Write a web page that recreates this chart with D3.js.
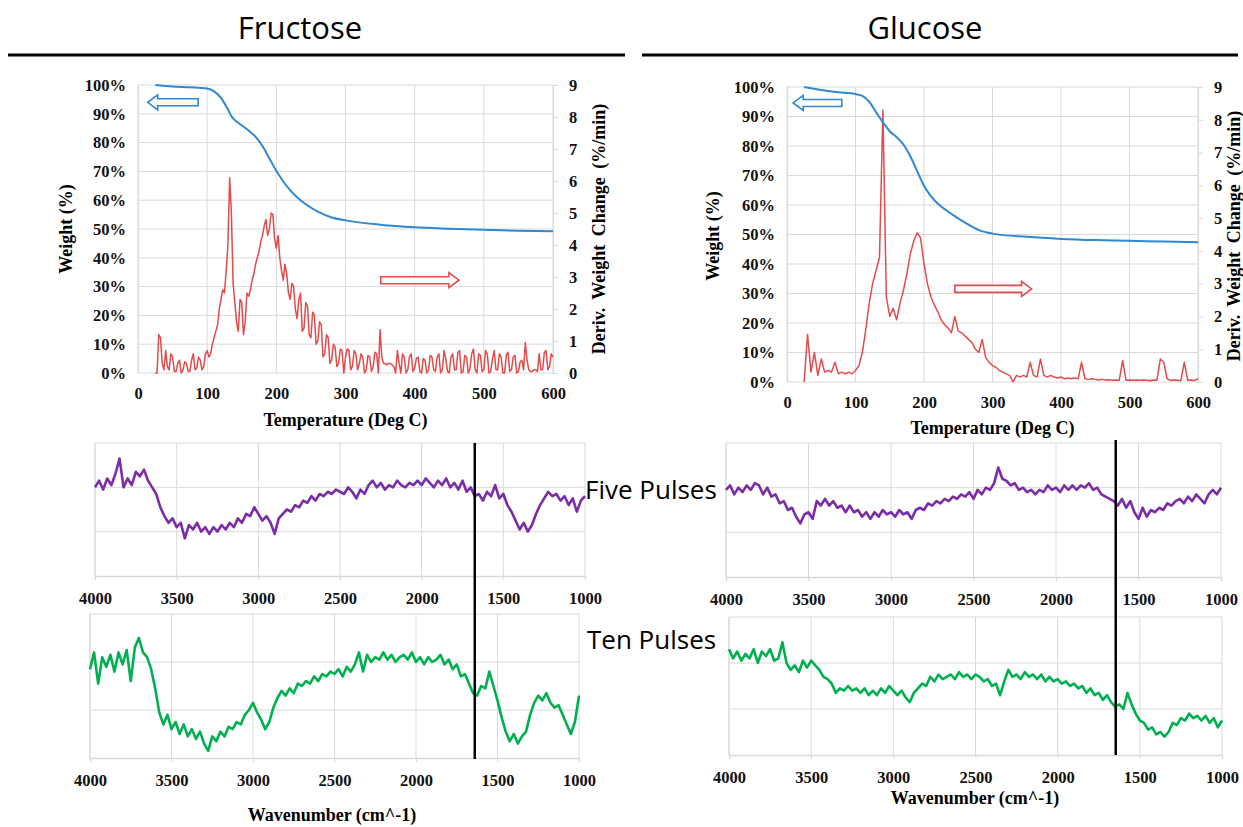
<!DOCTYPE html>
<html>
<head>
<meta charset="utf-8">
<script src="https://cdn.jsdelivr.net/npm/d3@7"></script>
<style>
  body { margin: 0; background: #fff; }
  svg { display: block; }
</style>
</head>
<body>
<svg id="fig" width="1243" height="827"></svg>
<script>
// ---- TGA data (temperature in deg C) ----
const tempTicks = [0, 100, 200, 300, 400, 500, 600];
const weightTicks = [0, 10, 20, 30, 40, 50, 60, 70, 80, 90, 100];
const derivTicks = [0, 1, 2, 3, 4, 5, 6, 7, 8, 9];

// weight curves (smooth)
const fruWeightT = [25, 50, 75, 100, 110, 120, 130, 135, 140, 150, 160, 170, 180, 190, 200, 210, 220, 230, 240, 260, 280, 300, 350, 400, 450, 500, 550, 600];
const fruWeight  = [100, 99.5, 99.2, 98.8, 97.8, 95.5, 91.5, 89.2, 87.8, 86, 84.2, 82, 78.8, 74.5, 70.2, 66.5, 63.5, 61, 59, 56, 54, 53, 51.5, 50.6, 50.1, 49.7, 49.4, 49.2];
const gluWeightT = [25, 50, 75, 100, 110, 120, 130, 140, 145, 150, 160, 170, 180, 190, 200, 210, 220, 240, 260, 280, 300, 350, 400, 450, 500, 550, 600];
const gluWeight  = [100, 99, 98.2, 97.6, 97, 95, 91.5, 88, 86.5, 85, 83, 80.5, 76.5, 71.5, 66.5, 63, 60.5, 57, 54, 51.5, 50.3, 49.2, 48.5, 48.1, 47.9, 47.6, 47.4];

// derivative curves
const fruDerivT = d3.range(25, 600.1, 2.5);   // every 2.5 deg C
const fruDeriv = [0.0, 0.0, 1.2, 1.1, 0.3, 0.1, 0.7, 0.2, 0.1, 0.6, 0.5, 0.05, 0.05, 0.3, 0.4, 0.0, 0.1, 0.35, 0.3, 0.05,
  0.05, 0.4, 0.6, 0.1, 0.15, 0.5, 0.4, 0.1, 0.2, 0.6, 0.7, 0.5, 0.6, 0.9, 1.1, 1.3, 1.5, 2.0, 2.3, 2.6,
  2.5, 3.2, 4.0, 6.1, 5.0, 2.8, 2.2, 1.6, 1.3, 2.3, 2.2, 1.2, 1.6, 2.5, 2.4, 2.6, 2.9, 3.1, 3.4, 3.6,
  3.8, 4.1, 4.3, 4.6, 4.8, 4.3, 4.5, 5.0, 4.95, 4.2, 3.9, 4.3, 3.6, 3.2, 2.9, 3.4, 3.1, 2.5, 2.3, 2.8,
  2.7, 2.0, 1.7, 2.3, 2.5, 1.3, 1.4, 2.2, 2.1, 1.2, 1.1, 1.9, 1.8, 0.9, 1.0, 1.6, 1.5, 0.5, 0.6, 1.2,
  1.1, 0.3, 0.4, 0.9, 0.8, 0.2, 0.3, 0.75, 0.7, 0.0, 0.5, 0.75, 0.7, 0.1, 0.2, 0.7, 0.6, 0.1, 0.3, 0.6,
  0.5, 0.0, 0.1, 0.55, 0.5, 0.05, 0.2, 0.65, 0.6, 0.0, 1.35, 0.5, 0.3, 0.3, 0.25, 0.3, 0.3, 0.25, 0.2, 0.0,
  0.7, 0.3, 0.0, 0.6, 0.5, 0.0, 0.1, 0.5, 0.6, 0.05, 0.15, 0.45, 0.5, 0.05, 0.0, 0.45, 0.4, 0.0, 0.1, 0.55,
  0.5, 0.1, 0.05, 0.5, 0.6, 0.0, 0.1, 0.7, 0.45, 0.05, 0.0, 0.5, 0.6, 0.1, 0.1, 0.65, 0.7, 0.0, 0.05, 0.55,
  0.5, 0.0, 0.15, 0.6, 0.75, 0.1, 0.0, 0.6, 0.55, 0.05, 0.1, 0.7, 0.6, 0.0, 0.05, 0.45, 0.7, 0.1, 0.1, 0.6,
  0.5, 0.0, 0.0, 0.55, 0.65, 0.05, 0.1, 0.5, 0.55, 0.0, 0.05, 0.35, 0.4, 0.1, 0.95, 0.4, 0.1, 0.05, 0.05, 0.1,
  0.1, 0.05, 0.6, 0.1, 0.1, 0.65, 0.7, 0.1, 0.2, 0.6, 0.5];
const gluDerivT = d3.range(25, 601, 5);       // every 5 deg C
const gluDeriv = [0.0, 1.45, 0.3, 0.9, 0.2, 0.7, 0.3, 0.35, 0.3, 0.6, 0.25, 0.3, 0.25, 0.3, 0.25,
  0.35, 0.5, 0.9, 1.6, 2.4, 3.0, 3.4, 3.8, 8.3, 2.6, 2.0, 2.25, 1.9, 2.4, 2.8,
  3.3, 3.9, 4.3, 4.55, 4.4, 3.6, 3.0, 2.6, 2.35, 2.15, 1.9, 1.75, 1.65, 1.5, 2.0,
  1.55, 1.5, 1.4, 1.3, 1.2, 1.0, 0.9, 1.3, 0.75, 0.6, 0.5, 0.45, 0.35, 0.3, 0.25,
  0.2, 0.0, 0.2, 0.15, 0.2, 0.15, 0.6, 0.2, 0.15, 0.7, 0.2, 0.15, 0.2, 0.15, 0.12,
  0.15, 0.1, 0.12, 0.1, 0.12, 0.1, 0.6, 0.1, 0.08, 0.1, 0.08, 0.06, 0.08, 0.06, 0.07,
  0.05, 0.06, 0.05, 0.65, 0.05, 0.06, 0.05, 0.06, 0.05, 0.06, 0.05, 0.04, 0.06, 0.05, 0.7,
  0.6, 0.1, 0.05, 0.06, 0.05, 0.04, 0.6, 0.05, 0.06, 0.04, 0.1];

// ---- IR data (wavenumber, arbitrary transmittance units 0..3) ----
const wnTicks = [4000, 3500, 3000, 2500, 2000, 1500, 1000];
const wn = d3.range(4000, 999, -25);
const fruFive = [2.0, 2.15, 1.95, 2.2, 2.05, 2.3, 2.65, 2.0, 2.2, 2.05, 2.35, 2.25, 2.4, 2.15, 2.0, 1.85,
  1.55, 1.35, 1.2, 1.3, 1.1, 1.2, 0.85, 1.15, 1.05, 1.2, 1.0, 1.1, 0.95, 1.1, 1.0, 1.15,
  1.05, 1.2, 1.1, 1.3, 1.2, 1.4, 1.35, 1.55, 1.4, 1.25, 1.35, 1.2, 0.95, 1.3, 1.4, 1.5,
  1.45, 1.6, 1.55, 1.7, 1.65, 1.8, 1.7, 1.85, 1.8, 1.9, 1.85, 1.95, 1.9, 1.85, 2.0, 1.9,
  1.75, 1.95, 1.85, 2.05, 2.15, 2.0, 2.1, 1.95, 2.05, 2.0, 2.15, 2.05, 2.0, 2.1, 2.05, 2.15,
  2.05, 2.2, 2.1, 2.0, 2.15, 2.05, 2.2, 2.0, 2.1, 1.95, 2.15, 1.9, 2.0, 1.8, 1.85, 1.7,
  1.9, 1.8, 2.05, 1.75, 1.85, 1.6, 1.45, 1.25, 1.05, 1.2, 1.0, 1.15, 1.4, 1.6, 1.75, 1.9,
  1.8, 1.85, 1.7, 1.8, 1.6, 1.75, 1.45, 1.7, 1.8];
const fruTen = [1.85, 2.2, 1.55, 2.1, 1.9, 2.15, 1.8, 2.2, 1.95, 2.25, 1.6, 2.3, 2.5, 2.2, 2.1, 1.85,
  1.45, 0.95, 0.7, 0.9, 0.6, 0.75, 0.5, 0.7, 0.45, 0.6, 0.4, 0.55, 0.3, 0.15, 0.45, 0.35,
  0.55, 0.45, 0.65, 0.6, 0.75, 0.7, 0.9, 1.0, 1.15, 0.95, 0.8, 0.6, 0.75, 1.05, 1.25, 1.4,
  1.3, 1.45, 1.35, 1.55, 1.5, 1.6, 1.55, 1.7, 1.6, 1.75, 1.7, 1.8, 1.75, 1.85, 1.7, 1.9,
  1.8, 1.95, 2.2, 1.8, 2.15, 2.0, 2.1, 2.05, 2.2, 2.05, 2.15, 2.0, 2.1, 2.15, 2.05, 2.2,
  2.0, 2.1, 1.95, 2.1, 2.0, 2.05, 2.15, 1.95, 2.05, 1.85, 1.95, 1.7, 1.75, 1.55, 1.35, 1.3,
  1.5, 1.45, 1.8, 1.5, 1.2, 0.85, 0.55, 0.35, 0.5, 0.3, 0.45, 0.55, 0.9, 1.15, 1.3, 1.2,
  1.35, 1.15, 1.05, 1.1, 0.9, 0.7, 0.5, 0.75, 1.3];
const gluFive = [1.95, 2.05, 1.85, 2.0, 1.9, 2.05, 1.95, 2.1, 2.05, 1.85, 2.0, 1.8, 1.85, 1.65, 1.7, 1.5,
  1.55, 1.35, 1.2, 1.4, 1.45, 1.3, 1.7, 1.6, 1.75, 1.6, 1.7, 1.55, 1.6, 1.45, 1.6, 1.45,
  1.5, 1.35, 1.45, 1.3, 1.45, 1.35, 1.5, 1.4, 1.45, 1.35, 1.5, 1.4, 1.45, 1.3, 1.5, 1.55,
  1.5, 1.65, 1.6, 1.7, 1.65, 1.75, 1.7, 1.8, 1.75, 1.85, 1.8, 1.9, 1.75, 1.95, 1.85, 2.0,
  1.95, 2.1, 2.45, 2.2, 2.15, 2.05, 2.1, 1.95, 2.0, 1.9, 1.95, 1.85, 1.95, 1.9, 2.05, 1.95,
  2.0, 1.9, 2.05, 1.95, 2.05, 1.95, 2.05, 2.0, 2.1, 1.95, 2.0, 1.85, 1.8, 1.75, 1.7, 1.6,
  1.75, 1.55, 1.7, 1.45, 1.3, 1.55, 1.35, 1.5, 1.45, 1.55, 1.5, 1.65, 1.6, 1.7, 1.75, 1.65,
  1.8, 1.7, 1.85, 1.75, 1.65, 1.85, 1.95, 1.85, 2.0];
const gluTen = [2.3, 2.1, 2.25, 2.05, 2.2, 2.1, 2.3, 2.0, 2.25, 2.15, 2.3, 2.05, 2.1, 2.45, 2.0, 1.85,
  1.95, 1.8, 2.05, 1.9, 2.05, 1.95, 1.85, 1.7, 1.65, 1.55, 1.35, 1.45, 1.4, 1.5, 1.4, 1.45,
  1.35, 1.45, 1.3, 1.4, 1.3, 1.45, 1.35, 1.5, 1.4, 1.3, 1.4, 1.25, 1.15, 1.35, 1.45, 1.55,
  1.5, 1.7, 1.6, 1.75, 1.65, 1.7, 1.75, 1.65, 1.8, 1.7, 1.75, 1.65, 1.75, 1.7, 1.6, 1.65,
  1.5, 1.55, 1.3, 1.6, 1.85, 1.7, 1.75, 1.65, 1.8, 1.7, 1.75, 1.65, 1.75, 1.6, 1.7, 1.6,
  1.65, 1.55, 1.6, 1.5, 1.55, 1.45, 1.5, 1.35, 1.45, 1.3, 1.35, 1.2, 1.3, 1.15, 1.05, 1.1,
  1.0, 1.35, 1.1, 0.9, 0.75, 0.7, 0.55, 0.6, 0.45, 0.5, 0.4, 0.5, 0.7, 0.65, 0.8, 0.75,
  0.9, 0.8, 0.85, 0.75, 0.85, 0.7, 0.8, 0.6, 0.75];
const fruMarkerWn = 1675; // vertical reference lines
const gluMarkerWn = 1638;

const svg = d3.select("#fig");
const grid = "#d9d9d9";
const serif = "'Liberation Serif', 'Times New Roman', serif";
const sans = "'Open Sans', 'Noto Sans', sans-serif";
const blue = "#2e88d4", red = "#e24b4b", purple = "#7a2da6", green = "#00b050";

// headers with rule lines
function header(label, cx, lx0, lx1) {
  svg.append("text").attr("x", cx).attr("y", 39).attr("text-anchor", "middle")
    .style("font-family", sans).style("font-size", "31px").text(label);
  svg.append("line").attr("x1", lx0).attr("x2", lx1).attr("y1", 55).attr("y2", 55)
    .attr("stroke", "#000").attr("stroke-width", 3);
}
header("Fructose", 300, 8, 625);
header("Glucose", 925, 642, 1238);

// hollow block arrow between two x positions at height y
function blockArrow(g, xa, xb, y, color) {
  const dir = xb > xa ? 1 : -1;
  const head = 10;
  const sx = xb - dir * head;
  const p = [[xa, y - 3.5], [sx, y - 3.5], [sx, y - 7.5], [xb, y], [sx, y + 7.5], [sx, y + 3.5], [xa, y + 3.5]];
  g.append("path").attr("d", "M" + p.join("L") + "Z")
    .attr("fill", "#fff").attr("stroke", color).attr("stroke-width", 1.6);
}

function boldSerif(sel, size) {
  return sel.style("font-family", serif).style("font-size", size + "px").style("font-weight", "bold");
}

function tgaPanel(o) {
  const g = svg.append("g");
  const x = d3.scaleLinear().domain([0, 600]).range([o.x0, o.x1]);
  const yW = d3.scaleLinear().domain([0, 100]).range([o.y1, o.y0]);
  const yD = d3.scaleLinear().domain([0, 9]).range([o.y1, o.y0]);

  // gridlines
  g.selectAll(".vg").data(tempTicks).enter().append("line")
    .attr("x1", d => x(d)).attr("x2", d => x(d)).attr("y1", o.y0).attr("y2", o.y1)
    .attr("stroke", grid).attr("stroke-width", 1);
  g.selectAll(".hg").data(weightTicks).enter().append("line")
    .attr("x1", o.x0).attr("x2", o.x1).attr("y1", d => yW(d)).attr("y2", d => yW(d))
    .attr("stroke", grid).attr("stroke-width", 1);

  const xa = g.append("g").attr("transform", "translate(0," + o.y1 + ")")
    .call(d3.axisBottom(x).tickValues(tempTicks).tickSize(0).tickPadding(14));
  const ya = g.append("g").attr("transform", "translate(" + o.x0 + ",0)")
    .call(d3.axisLeft(yW).tickValues(weightTicks).tickFormat(d => d + "%").tickSize(0).tickPadding(12));
  const yr = g.append("g").attr("transform", "translate(" + o.x1 + ",0)")
    .call(d3.axisRight(yD).tickValues(derivTicks).tickSize(5).tickPadding(11));
  [xa, ya, yr].forEach(a => {
    a.select(".domain").attr("stroke", grid);
    a.selectAll(".tick line").attr("stroke", grid);
    boldSerif(a.selectAll("text"), 16.5).attr("fill", "#111");
  });
  xa.select(".domain").remove();

  // titles
  boldSerif(g.append("text").attr("x", (o.x0 + o.x1) / 2).attr("y", o.xtY).attr("text-anchor", "middle"), 18)
    .text("Temperature  (Deg C)");
  boldSerif(g.append("text").attr("transform", "translate(" + o.ylX + "," + o.ytY + ") rotate(-90)")
    .attr("text-anchor", "middle").attr("dy", "0.35em"), 18).text("Weight  (%)");
  boldSerif(g.append("text").attr("transform", "translate(" + o.yrX + "," + o.ytY + ") rotate(-90)")
    .attr("text-anchor", "middle").attr("dy", "0.35em"), 18)
    .style("word-spacing", "4px").text("Deriv.  Weight  Change  (%/min)");

  // derivative curve
  const dline = d3.line().x((d, i) => x(o.dT[i])).y(d => yD(d));
  g.append("path").datum(o.deriv.slice(0, o.dT.length)).attr("d", dline)
    .attr("fill", "none").attr("stroke", red).attr("stroke-width", 1.5).attr("stroke-linejoin", "round");

  // weight curve
  const wline = d3.line().x((d, i) => x(o.wT[i])).y(d => yW(d)).curve(d3.curveMonotoneX);
  g.append("path").datum(o.w).attr("d", wline)
    .attr("fill", "none").attr("stroke", blue).attr("stroke-width", 2);

  blockArrow(g, x(o.bArrow[1]), x(o.bArrow[0]), yW(o.bArrow[2]), blue);
  blockArrow(g, x(o.rArrow[0]), x(o.rArrow[1]), yD(o.rArrow[2]), red);
}

tgaPanel({ x0: 138, x1: 553, y0: 85, y1: 373, xtY: 426, ylX: 66, yrX: 599, ytY: 229,
  wT: fruWeightT, w: fruWeight, dT: fruDerivT, deriv: fruDeriv, bArrow: [14, 87, 94], rArrow: [351, 464, 2.9] });
tgaPanel({ x0: 787, x1: 1198, y0: 87, y1: 382, xtY: 434, ylX: 713, yrX: 1234, ytY: 236,
  wT: gluWeightT, w: gluWeight, dT: gluDerivT, deriv: gluDeriv, bArrow: [9, 80, 94.6], rArrow: [245, 357, 2.84] });

// ---- IR panels ----
function irPanel(o) {
  const g = svg.append("g");
  const x = d3.scaleLinear().domain([4000, 1000]).range([o.x0, o.x1]);
  const y = d3.scaleLinear().domain([0, 3]).range([o.y1, o.y0]);
  g.selectAll(".vg").data(wnTicks).enter().append("line")
    .attr("x1", d => x(d)).attr("x2", d => x(d)).attr("y1", o.y0).attr("y2", o.y1)
    .attr("stroke", grid);
  g.selectAll(".hg").data([1, 2, 3]).enter().append("line")
    .attr("x1", o.x0).attr("x2", o.x1).attr("y1", d => y(d)).attr("y2", d => y(d))
    .attr("stroke", grid);
  const ax = g.append("g").attr("transform", "translate(0," + o.y1 + ")")
    .call(d3.axisBottom(x).tickValues(wnTicks).tickFormat(d3.format("d")).tickSize(4).tickPadding(12));
  ax.select(".domain").attr("stroke", grid).attr("stroke-width", 1.5);
  ax.selectAll(".tick line").attr("stroke", grid);
  boldSerif(ax.selectAll("text"), 16.5).attr("fill", "#111");
  g.append("line").attr("x1", o.x0).attr("x2", o.x0).attr("y1", o.y0).attr("y2", o.y1)
    .attr("stroke", grid);

  const line = d3.line().x((d, i) => x(wn[i])).y(d => y(d));
  g.append("path").datum(o.v.slice(0, wn.length)).attr("d", line)
    .attr("fill", "none").attr("stroke", o.color).attr("stroke-width", 2.6)
    .attr("stroke-linejoin", "round");
  return x;
}

const xf5 = irPanel({ x0: 95, x1: 585, y0: 443, y1: 576, v: fruFive, color: purple });
irPanel({ x0: 90, x1: 579, y0: 614, y1: 758, v: fruTen, color: green });
const xg5 = irPanel({ x0: 726, x1: 1221, y0: 443, y1: 577, v: gluFive, color: purple });
irPanel({ x0: 729, x1: 1222, y0: 617, y1: 755, v: gluTen, color: green });

// vertical marker lines across both spectra
[[xf5, fruMarkerWn, 443, 759], [xg5, gluMarkerWn, 440, 755]].forEach(([sx, w, ya, yb]) => {
  svg.append("line").attr("x1", sx(w)).attr("x2", sx(w))
    .attr("y1", ya).attr("y2", yb).attr("stroke", "#000").attr("stroke-width", 2.5);
});

svg.append("text").attr("x", 585).attr("y", 499)
  .style("font-family", sans).style("font-size", "26px").text("Five Pulses");
svg.append("text").attr("x", 587).attr("y", 649)
  .style("font-family", sans).style("font-size", "26px").text("Ten Pulses");

[[332, 821], [975, 804]].forEach(([cx, cy]) => {
  boldSerif(svg.append("text").attr("x", cx).attr("y", cy).attr("text-anchor", "middle"), 18)
    .text("Wavenumber  (cm^-1)");
});
</script>
</body>
</html>
